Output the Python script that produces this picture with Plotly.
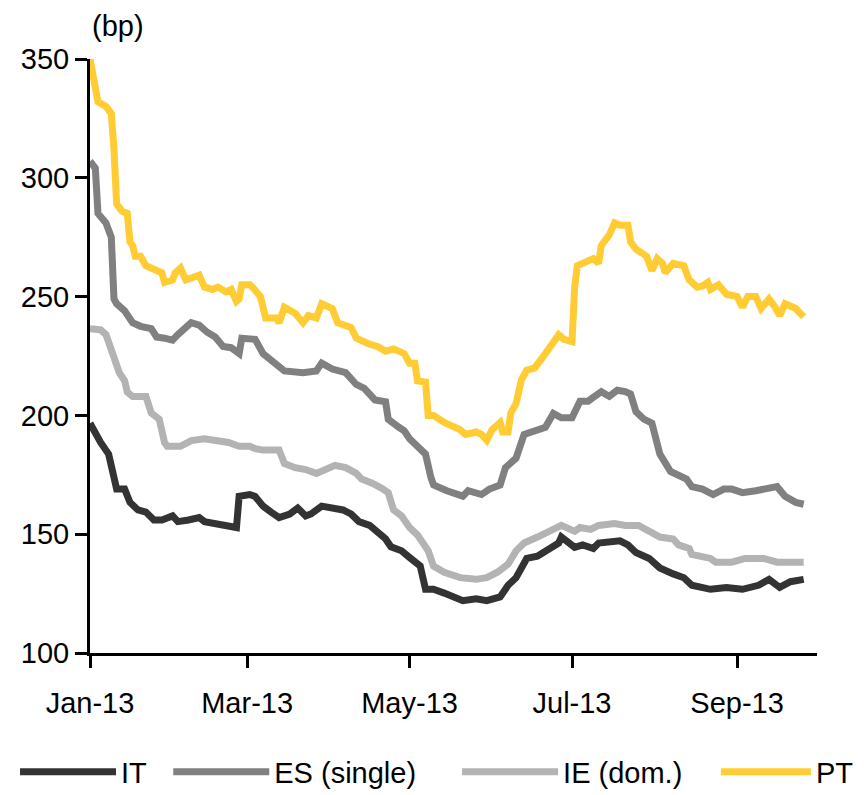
import pandas as pd
import plotly.graph_objects as go

# x values: days since 1 Jan 2013
it_day = [0, 2, 4, 7, 9, 10, 13, 15, 18, 21, 24, 27, 31, 33, 37, 41, 43, 47, 51, 55, 56, 60, 62, 65, 68, 71, 75, 78, 81, 83, 87, 91, 95, 98, 101, 105, 108, 111, 113, 117, 120, 124, 126, 129, 133, 137, 140, 145, 149, 154, 157, 160, 164, 168, 172, 176, 177, 179, 182, 185, 189, 191, 196, 199, 202, 205, 210, 214, 219, 223, 226, 233, 239, 245, 251, 255, 259, 263, 268]
it_val = [196.7, 192, 188.6, 183.7, 174, 169, 169, 163.4, 160.2, 159.3, 156, 156, 157.7, 155.3, 156, 157, 155.3, 154.5, 153.7, 152.8, 166, 166.7, 165.9, 161.8, 159.3, 157, 158.5, 161, 157.7, 158.5, 161.8, 161, 160.2, 158.5, 155.3, 153.7, 150.4, 148, 144.7, 143, 140.2, 136.6, 126.8, 126.8, 125.2, 123.6, 122, 122.8, 122, 123.6, 128.5, 131.7, 139.8, 140.7, 143.9, 146.3, 148.8, 147.2, 144.5, 145.5, 144, 146.3, 147.2, 147.2, 145.5, 142.3, 139.8, 135.8, 133.3, 131.7, 128.5, 126.8, 127.6, 126.8, 128.5, 131, 127.6, 130, 131]

es_day = [0, 2, 3, 6, 8, 9, 10, 13, 16, 19, 23, 25, 28, 31, 33, 36, 38, 41, 44, 47, 50, 53, 56, 57, 60, 62, 65, 70, 73, 80, 85, 87, 91, 96, 100, 103, 107, 111, 112, 116, 118, 120, 124, 126, 128, 129, 134, 140, 142, 147, 150, 154, 156, 158, 160, 163, 167, 171, 174, 177, 181, 182, 184, 187, 190, 192, 195, 198, 201, 203, 205, 208, 211, 213, 214, 218, 221, 224, 226, 230, 234, 238, 241, 245, 250, 254, 258, 261, 265, 268]
es_val = [307, 304, 285, 281, 275, 249, 247, 244, 239, 237.5, 236.5, 233, 232.5, 231.7, 234, 237.4, 239, 238, 235, 233, 229, 228.5, 226, 232.5, 232.5, 232, 226, 221, 218.7, 218, 218.7, 222, 219.5, 218, 213, 211.4, 206.5, 205.7, 198.4, 195, 193.5, 190.2, 185.4, 183.7, 174, 170.7, 168.3, 166, 168.3, 166.7, 169, 170.7, 178, 179.7, 182, 192, 193.5, 195, 200.8, 199, 199, 202, 206, 206, 208, 210, 208, 210.6, 210, 209, 201.6, 198.4, 196.7, 187, 183.7, 176.4, 174.8, 173.2, 170, 169, 166.7, 169, 169, 167.5, 168.3, 169, 170, 166, 163.4, 162.6]

ie_day = [0, 4, 6, 9, 11, 13, 14, 16, 21, 23, 26, 28, 29, 34, 38, 43, 48, 52, 56, 60, 62, 65, 71, 73, 77, 81, 85, 88, 92, 96, 100, 102, 106, 110, 112, 114, 117, 120, 123, 127, 129, 133, 139, 145, 149, 153, 157, 160, 163, 168, 173, 177, 182, 184, 188, 191, 197, 201, 206, 210, 214, 219, 221, 225, 226, 233, 235, 241, 246, 253, 258, 263, 268]
ie_val = [236.5, 236, 234, 223, 218, 214.6, 209.8, 208, 208, 201, 198.4, 188.6, 187, 187, 189.4, 190.2, 189.4, 188.6, 187, 187, 186, 185.4, 185.4, 179.7, 178, 177.2, 175.6, 177.2, 179, 178, 175.6, 173.2, 171.5, 169, 167.5, 160.2, 157.7, 152.8, 149.6, 143, 136.6, 134, 131.7, 131, 131.7, 134, 137.4, 143, 146.3, 148.8, 151.2, 153.7, 151.2, 152.8, 152, 153.7, 154.5, 153.7, 153.7, 151.2, 148.8, 148, 145.5, 144, 141.5, 139.8, 138.2, 138.2, 139.8, 139.8, 138.2, 138.2, 138.2]

pt_day = [0, 3, 6, 8, 9, 10, 12, 14, 15, 16, 17, 19, 21, 23, 27, 28, 31, 32, 34, 36, 38, 41, 43, 46, 48, 51, 53, 55, 56, 57, 60, 61, 64, 66, 70, 71, 73, 77, 80, 82, 85, 87, 91, 93, 98, 100, 105, 108, 111, 114, 118, 120, 122, 123, 126, 127, 129, 133, 139, 141, 145, 147, 149, 151, 154, 155, 157, 158, 160, 162, 164, 167, 171, 176, 178, 181, 182, 183, 185, 189, 191, 192, 195, 197, 199, 202, 203, 205, 209, 211, 213, 215, 216, 219, 223, 225, 228, 230, 232, 233, 236, 239, 243, 245, 247, 250, 252, 255, 257, 259, 261, 265, 268]
pt_val = [350, 332, 330, 327, 312, 289, 286, 285, 273, 271.5, 267, 267, 263, 262, 260, 256, 257, 260, 262, 257, 258, 259, 254, 253, 254, 252, 253, 248, 249, 255, 255, 254, 250, 241, 241, 239, 245.5, 243, 239, 242, 241, 247, 245, 239, 237, 232.5, 230, 229, 227, 228, 226, 222, 222, 214.5, 214, 200, 200, 197, 194, 192, 193, 192, 189.5, 194, 197, 193, 193, 201, 205, 215, 219, 220, 226, 234, 232, 231, 254, 263, 264, 266, 264, 271.5, 276, 281, 280, 280, 273, 270, 267, 261, 266, 264, 260, 264, 263, 257, 254, 254.5, 256, 253, 255, 251, 250, 245.5, 250, 250, 245, 249, 246, 242, 247, 245, 241.5]

series_names = ["IT", "ES (single)", "IE (dom.)", "PT"]
series_colors = ["#333333", "#808080", "#b3b3b3", "#ffcc33"]
series_days = [it_day, es_day, ie_day, pt_day]
series_vals = [it_val, es_val, ie_val, pt_val]

y_ticks = [100, 150, 200, 250, 300, 350]
base = pd.Timestamp("2013-01-01")

# one legend box per series so each entry sits where the original places it
legend_ids = ["legend", "legend2", "legend3", "legend4"]
legend_x = [0.0082, 0.187, 0.524, 0.826]
legend_itemw = [96, 96, 96, 90]

W, H = 857, 787  # page has an 8px body margin

fig = go.Figure()
for name, color, days, vals, lid in zip(series_names, series_colors, series_days, series_vals, legend_ids):
    dates = base + pd.to_timedelta(days, unit="D")
    fig.add_trace(go.Scatter(
        x=dates, y=vals, mode="lines", name=name, legend=lid,
        line=dict(color=color, width=7),
    ))

font_family = "Liberation Sans, Arial, sans-serif"
legend_common = dict(
    orientation="h", xref="container", yref="container",
    xanchor="left", y=0.0292, yanchor="middle",
    font=dict(size=29), bgcolor="rgba(0,0,0,0)",
)
layout_legends = {
    lid: dict(legend_common, x=lx, itemwidth=iw)
    for lid, lx, iw in zip(legend_ids, legend_x, legend_itemw)
}

fig.update_layout(
    width=W, height=H,
    margin=dict(l=82, r=48, t=51, b=142, autoexpand=False),
    plot_bgcolor="white", paper_bgcolor="white",
    font=dict(family=font_family, size=29, color="black"),
    showlegend=True,
    xaxis=dict(
        type="date",
        range=["2013-01-01", "2013-10-01"],
        tick0="2013-01-01", dtick="M2", tickformat="%b-%y",
        showline=True, linecolor="black", linewidth=3,
        ticks="outside", ticklen=12, tickwidth=3, tickcolor="black",
        showgrid=False, zeroline=False, automargin=False,
        ticklabelstandoff=10,
    ),
    yaxis=dict(
        range=[100, 350], tickvals=y_ticks,
        showline=True, linecolor="black", linewidth=3,
        ticks="outside", ticklen=12, tickwidth=3, tickcolor="black",
        showgrid=False, zeroline=False, automargin=False,
        ticklabelstandoff=0,
    ),
    annotations=[dict(
        text="(bp)", xref="paper", yref="paper", x=0, y=1,
        xanchor="left", yanchor="bottom", yshift=15, xshift=0,
        showarrow=False, font=dict(size=29),
    )],
    **layout_legends,
)

fig.write_html("out.html")
